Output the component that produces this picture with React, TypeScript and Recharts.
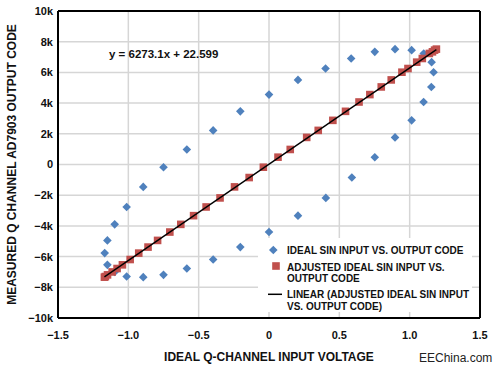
import React from 'react';
import { ScatterChart, Scatter, XAxis, YAxis, CartesianGrid, ReferenceLine, Legend } from 'recharts';

// ideal sin input vs. output code
const idealX = [
  0, -0.204, -0.397, -0.584, -0.75, -0.894, -1.012, -1.097, -1.149, -1.168, -1.149, -1.097,
  -1.012, -0.894, -0.75, -0.584, -0.397, -0.204, 0, 0.206, 0.404, 0.589, 0.752, 0.896,
  1.014, 1.099, 1.154, 1.17, 1.156, 1.1, 1.014, 0.896, 0.752, 0.584, 0.402, 0.206,
];
const idealY = [
  4555, 3464, 2222, 980, -176, -1458, -2767, -3900, -4945, -5773, -6536, -7000,
  -7300, -7340, -7190, -6776, -6190, -5380, -4400, -3333, -2177, -850, 477, 1765,
  2876, 4072, 5053, 6013, 6667, 7235, 7450, 7516, 7340, 6907, 6253, 5510,
];

// adjusted ideal sin input vs. output code
const adjustedX = [
  -1.17, -1.163, -1.148, -1.115, -1.08, -1.042, -0.987, -0.926, -0.86, -0.792, -0.705, -0.627,
  -0.536, -0.447, -0.348, -0.245, -0.141, -0.04, 0.064, 0.151, 0.268, 0.35, 0.454, 0.544,
  0.64, 0.717, 0.798, 0.869, 0.945, 0.988, 1.05, 1.09, 1.14, 1.162, 1.177, 1.19,
];
const adjustedY = [
  -7340, -7300, -7190, -7000, -6776, -6536, -6190, -5773, -5380, -4945, -4400, -3900,
  -3333, -2767, -2177, -1458, -850, -176, 477, 980, 1765, 2222, 2876, 3464,
  4072, 4555, 5053, 5510, 6013, 6253, 6667, 6907, 7235, 7340, 7450, 7516,
];

// linear trendline ends
const trendX = [-1.17, 1.19];
const trendY = [-7317, 7487];

const xTicks = [-1.5, -1.0, -0.5, 0, 0.5, 1.0, 1.5];
const yTicks = [-10000, -8000, -6000, -4000, -2000, 0, 2000, 4000, 6000, 8000, 10000];

const BLUE = '#4f81bd';
const RED = '#c0504d';
const FONT = '"Liberation Sans", Arial, Helvetica, sans-serif';

const ideal = idealX.map((x, i) => ({ x, y: idealY[i] }));
const adjusted = adjustedX.map((x, i) => ({ x, y: adjustedY[i] }));
const trend = trendX.map((x, i) => ({ x, y: trendY[i] }));

const fmtX = (v: number) => (v === 0 ? '0' : `${v < 0 ? '\u2212' : ''}${Math.abs(v).toFixed(1)}`);
const fmtY = (v: number) => (v === 0 ? '0' : `${v < 0 ? '\u2212' : ''}${Math.abs(v) / 1000}k`);

const Diamond = (props: any) => {
  const { cx, cy } = props;
  if (cx == null || cy == null) return <g />;
  const r = 4.3;
  return <polygon points={`${cx},${cy - r} ${cx + r},${cy} ${cx},${cy + r} ${cx - r},${cy}`} fill={BLUE} />;
};

const Square = (props: any) => {
  const { cx, cy } = props;
  if (cx == null || cy == null) return <g />;
  const s = 7.6;
  return <rect x={cx - s / 2} y={cy - s / 2} width={s} height={s} fill={RED} />;
};

const legendText = { fontFamily: FONT, fontSize: 10, fontWeight: 700, fill: '#111' };

const LegendBox = () => (
  <svg width={214} height={74} style={{ display: 'block', background: '#fff' }}>
    <Diamond cx={15.3} cy={12} />
    <text x={29} y={15.6} style={legendText}>IDEAL SIN INPUT VS. OUTPUT CODE</text>
    <Square cx={18} cy={28} />
    <text x={29} y={32.9} style={legendText}>ADJUSTED IDEAL SIN INPUT VS.</text>
    <text x={29} y={43.9} style={legendText}>OUTPUT CODE</text>
    <line x1={10} x2={24} y1={56.3} y2={56.3} stroke="#000" strokeWidth={1.5} />
    <text x={29} y={60} style={legendText}>LINEAR (ADJUSTED IDEAL SIN INPUT</text>
    <text x={29} y={71.6} style={legendText}>VS. OUTPUT CODE)</text>
  </svg>
);

export default function App() {
  const tick = { fill: '#111', fontSize: 11, fontWeight: 700, fontFamily: FONT };
  return (
    <div style={{ position: 'absolute', left: 0, top: 0, width: 500, height: 372, background: '#fff', fontFamily: FONT }}>
      <ScatterChart width={500} height={372} margin={{ top: 11, right: 20, bottom: 0, left: 0 }}>
        <CartesianGrid stroke="#d6d6d6" strokeWidth={1.5} />
        <XAxis
          type="number"
          dataKey="x"
          domain={[-1.5, 1.5]}
          ticks={xTicks}
          interval={0}
          tickFormatter={fmtX}
          tick={tick}
          tickLine={false}
          tickSize={6}
          tickMargin={7}
          height={54}
          axisLine={{ stroke: '#000', strokeWidth: 2 }}
          label={{
            value: 'IDEAL Q-CHANNEL INPUT VOLTAGE',
            position: 'insideBottom',
            offset: 11,
            style: { fill: '#111', fontSize: 12, fontWeight: 700, fontFamily: FONT },
          }}
        />
        <YAxis
          type="number"
          dataKey="y"
          domain={[-10000, 10000]}
          ticks={yTicks}
          interval={0}
          tickFormatter={fmtY}
          tick={tick}
          tickLine={false}
          tickSize={3}
          tickMargin={2}
          width={58}
          axisLine={{ stroke: '#000', strokeWidth: 2 }}
          label={{
            value: 'MEASURED Q CHANNEL AD7903 OUTPUT CODE',
            angle: -90,
            position: 'insideLeft',
            offset: 12,
            style: { textAnchor: 'middle', fill: '#111', fontSize: 12, fontWeight: 700, fontFamily: FONT },
          }}
        />
        <ReferenceLine y={10000} stroke="#000" strokeWidth={2} />
        <ReferenceLine x={1.5} stroke="#000" strokeWidth={2} />
        <Scatter name="IDEAL SIN INPUT VS. OUTPUT CODE" data={ideal} shape={Diamond} isAnimationActive={false} />
        <Scatter name="ADJUSTED IDEAL SIN INPUT VS. OUTPUT CODE" data={adjusted} shape={Square} isAnimationActive={false} />
        <Scatter
          name="LINEAR (ADJUSTED IDEAL SIN INPUT VS. OUTPUT CODE)"
          data={trend}
          line={{ stroke: '#000', strokeWidth: 1.4 }}
          lineType="joint"
          shape={() => <g />}
          isAnimationActive={false}
        />
        <Legend
          layout="vertical"
          align="center"
          verticalAlign="middle"
          content={() => <LegendBox />}
          wrapperStyle={{ left: 258, top: 238, width: 214, height: 74, background: '#fff' }}
        />
      </ScatterChart>
      <div
        style={{
          position: 'absolute', left: 109, top: 47, fontSize: 11.5, lineHeight: '14px',
          fontWeight: 700, color: '#111', whiteSpace: 'nowrap',
        }}
      >
        y = 6273.1x + 22.599
      </div>
      <div
        style={{
          position: 'absolute', left: 419, top: 351, fontSize: 12, lineHeight: '14px',
          color: '#222', whiteSpace: 'nowrap',
        }}
      >
        EEChina.com
      </div>
    </div>
  );
}
